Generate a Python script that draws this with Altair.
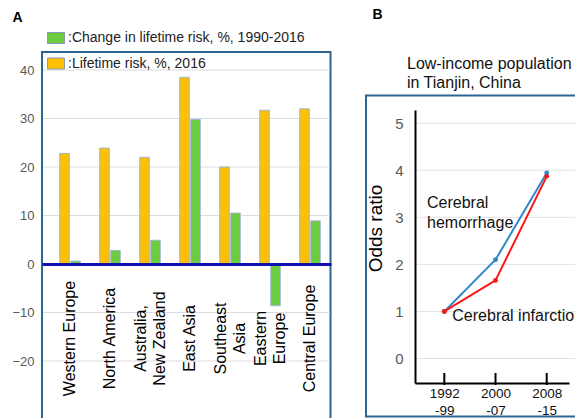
import altair as alt
import pandas as pd

# ---- Panel A: lifetime stroke risk by region ----
regions = ["Western Europe", "North America", "Australia,\nNew Zealand", "East Asia",
           "Southeast\nAsia", "Eastern\nEurope", "Central Europe"]
lifetime_risk_2016 = [22.8, 23.9, 22.0, 38.5, 20.0, 31.7, 32.0]
risk_change_1990_2016 = [0.6, 2.8, 4.9, 29.8, 10.5, -8.6, 8.9]
series_names = ["Change in lifetime risk, %, 1990-2016", "Lifetime risk, %, 2016"]
series_colors = ["#6CCB3E", "#FFC000"]
risk_ticks = [-20, -10, 0, 10, 20, 30, 40]
risk_grid = [-20, -10, 10, 20, 30, 40]

# ---- Panel B: odds ratios in a low-income population ----
periods = ["1992\n-99", "2000\n-07", "2008\n-15"]
outcomes = ["Cerebral hemorrhage", "Cerebral infarction"]
outcome_colors = ["#2E8BC7", "#FF1414"]
hemorrhage_or = [1.0, 2.1, 3.94]
infarction_or = [1.0, 1.66, 3.87]
or_ticks = [0, 1, 2, 3, 4, 5]

FONT = "Liberation Sans"
FRAME = "#2C6493"

risk = pd.DataFrame(
    [{"region": r, "series": series_names[1], "value": v} for r, v in zip(regions, lifetime_risk_2016)]
    + [{"region": r, "series": series_names[0], "value": v} for r, v in zip(regions, risk_change_1990_2016)]
)
odds = pd.DataFrame(
    [{"period": p, "outcome": outcomes[0], "odds_ratio": v} for p, v in zip(periods, hemorrhage_or)]
    + [{"period": p, "outcome": outcomes[1], "odds_ratio": v} for p, v in zip(periods, infarction_or)]
)
one_row = pd.DataFrame({"k": [0]})

# scales shared by the layers of each panel
x_a = alt.Scale(domain=regions, range=[42, 331], paddingInner=0.2, paddingOuter=0.2125, align=0.706)
off_a = alt.Scale(domain=[series_names[1], series_names[0]], paddingInner=0.136, paddingOuter=0.523)
y_a = alt.Scale(domain=[-32, 44], range=[419.2, 50.6], nice=False, zero=False)
x_b = alt.Scale(type="point", domain=periods, range=[415, 569], padding=0.504, align=0.568)
y_b = alt.Scale(domain=[-0.52, 5.28], range=[383, 110], nice=False, zero=False)

frame_a = alt.Chart(one_row).mark_rect(fill="transparent", stroke=FRAME, strokeWidth=2).encode(
    x=alt.value(42), x2=alt.value(330.5), y=alt.value(52), y2=alt.value(440))
frame_b = alt.Chart(one_row).mark_rect(fill="transparent", stroke=FRAME, strokeWidth=2).encode(
    x=alt.value(366), x2=alt.value(640), y=alt.value(95.5), y2=alt.value(416.5))

grid_a = alt.Chart(pd.DataFrame({"tick": risk_grid})).mark_rule(color="#DCDCDC", strokeWidth=1).encode(
    y=alt.Y("tick:Q", scale=y_a, axis=None), x=alt.value(43), x2=alt.value(330))

# two-line region names are centred on their bar pair
two_line_shift = {"condition": {"test": "indexof(datum.label, '\\n') >= 0", "value": -9.5}, "value": 0}

bars = alt.Chart(risk).mark_bar(stroke="#9DB5D5", strokeWidth=1).encode(
    x=alt.X("region:N", scale=x_a, title=None, axis=alt.Axis(
        orient="bottom", offset=-154, domainColor="#1010B0", domainWidth=3, ticks=False, grid=False,
        labelAngle=270, labelAlign="center", labelBaseline="middle", labelPadding=74,
        labelOffset=two_line_shift,
        labelFont=FONT, labelFontSize=16, labelColor="#000000", labelLineHeight=19,
        labelExpr="split(datum.label, '\\n')", labelOverlap=False, labelLimit=300, zindex=1)),
    xOffset=alt.XOffset("series:N", scale=off_a),
    y=alt.Y("value:Q", scale=y_a, title=None, axis=alt.Axis(
        orient="left", offset=-42, values=risk_ticks, domain=False, ticks=False, grid=False,
        labelPadding=8, labelFont=FONT, labelFontSize=13, labelColor="#595959")),
    y2=alt.Y2(datum=0),
    color=alt.Color("series:N", scale=alt.Scale(domain=series_names, range=series_colors), legend=alt.Legend(
        orient="none", legendX=47, legendY=29, title=None, direction="vertical", padding=0,
        symbolType="M-1,-0.647L1,-0.647L1,0.647L-1,0.647Z", symbolSize=289,
        symbolStrokeColor="#8C9BB0", symbolStrokeWidth=1, symbolOpacity=1,
        labelFont=FONT, labelFontSize=14, labelColor="#222222", labelOffset=3, rowPadding=8.5,
        labelExpr="':' + datum.label", labelLimit=400)),
)

grid_b = alt.Chart(pd.DataFrame({"tick": or_ticks})).mark_rule(color="#E2E2E2", strokeWidth=1).encode(
    y=alt.Y("tick:Q", scale=y_b, axis=None), x=alt.value(417), x2=alt.value(575))

ticks_b = alt.Chart(pd.DataFrame({"period": periods})).mark_rule(color="#000000", strokeWidth=2).encode(
    x=alt.X("period:O", scale=x_b, axis=None), y=alt.value(373), y2=alt.value(385))

lines = alt.Chart(odds).mark_line(strokeWidth=2).encode(
    x=alt.X("period:O", scale=x_b, title=None, axis=alt.Axis(
        orient="bottom", offset=-35, domainColor="#000000", domainWidth=2, ticks=False, grid=False,
        labelAngle=0, labelAlign="center", labelBaseline="top", labelPadding=3,
        labelFont=FONT, labelFontSize=13.5, labelColor="#111111", labelLineHeight=17,
        labelExpr="split(datum.label, '\\n')")),
    y=alt.Y("odds_ratio:Q", scale=y_b, axis=alt.Axis(
        orient="left", offset=-415, values=or_ticks, domainColor="#000000", domainWidth=2,
        ticks=False, grid=False, labelPadding=12, labelFont=FONT, labelFontSize=15,
        labelColor="#595959", title="Odds ratio", titleFont=FONT, titleFontSize=19,
        titleFontWeight="normal", titleColor="#000000", titleX=-40, titleY=228, titleAngle=270,
        titleAlign="center", titleBaseline="middle")),
    color=alt.Color("outcome:N", scale=alt.Scale(domain=outcomes, range=outcome_colors), legend=None),
)
points = alt.Chart(odds).mark_circle(size=24, opacity=1).encode(
    x=alt.X("period:O", scale=x_b, axis=None),
    y=alt.Y("odds_ratio:Q", scale=y_b, axis=None),
    color=alt.Color("outcome:N", scale=alt.Scale(domain=outcomes, range=outcome_colors), legend=None),
)

# series annotations next to the curves
notes = pd.DataFrame({
    "period": [periods[0], periods[0]],
    "odds_ratio": [3.1, infarction_or[0]],
    "note": ["Cerebral\nhemorrhage", "Cerebral infarction"],
})
note_h = alt.Chart(notes.iloc[[0]]).mark_text(
    align="left", baseline="middle", font=FONT, fontSize=16, lineBreak="\n", lineHeight=20,
    color="#111111", dx=-17.3, dy=-10).encode(
    x=alt.X("period:O", scale=x_b, axis=None), y=alt.Y("odds_ratio:Q", scale=y_b, axis=None),
    text="note:N")
note_i = alt.Chart(notes.iloc[[1]]).mark_text(
    align="left", baseline="middle", font=FONT, fontSize=16, color="#111111", dx=8, dy=4.5).encode(
    x=alt.X("period:O", scale=x_b, axis=None), y=alt.Y("odds_ratio:Q", scale=y_b, axis=None),
    text="note:N")

label_a = alt.Chart(pd.DataFrame({"t": ["A"]})).mark_text(
    align="left", baseline="alphabetic", font=FONT, fontSize=14, fontWeight="bold", color="#000000").encode(
    x=alt.value(12.5), y=alt.value(22), text="t:N")
label_b = alt.Chart(pd.DataFrame({"t": ["B"]})).mark_text(
    align="left", baseline="alphabetic", font=FONT, fontSize=14, fontWeight="bold", color="#000000").encode(
    x=alt.value(372.5), y=alt.value(18.5), text="t:N")
heading_b = alt.Chart(pd.DataFrame({"t": ["Low-income population\nin Tianjin, China"]})).mark_text(
    align="left", baseline="middle", font=FONT, fontSize=16, lineBreak="\n", lineHeight=19,
    color="#111111").encode(x=alt.value(407), y=alt.value(64), text="t:N")

chart = alt.layer(
    frame_a, frame_b, grid_a, bars, grid_b, ticks_b, lines, points, note_h, note_i,
    label_a, label_b, heading_b,
).resolve_scale(
    x="independent", y="independent", color="independent"
).properties(
    width=575, height=418, padding=0, autosize=alt.AutoSizeParams(type="none"),
).configure_view(stroke="transparent")

chart.save("out.html", embed_options={"renderer": "svg", "actions": False})
